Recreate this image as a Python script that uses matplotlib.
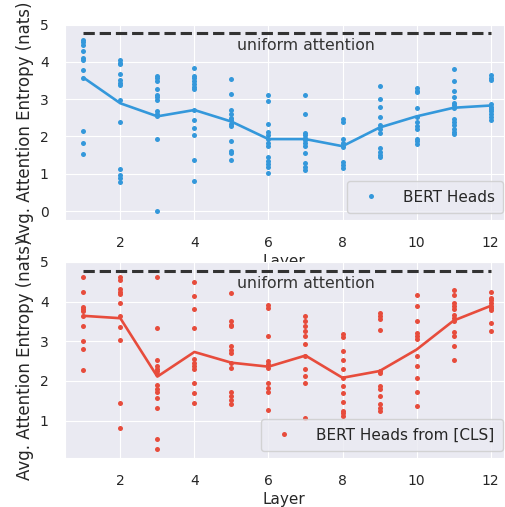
import numpy as np
import matplotlib
matplotlib.use("Agg")
import matplotlib.pyplot as plt
import seaborn as sns

# per-layer head entropies
layers = list(range(1, 13))
uniform_entropy = 4.78

bert_heads = [
    [4.59, 4.53, 4.46, 4.28, 4.11, 4.04, 3.77, 3.58, 2.16, 1.83, 1.53],
    [4.04, 3.97, 3.93, 3.67, 3.51, 3.44, 3.38, 2.98, 2.38, 1.12, 0.97, 0.88, 0.79],
    [3.62, 3.56, 3.49, 3.27, 3.12, 3.05, 2.98, 2.68, 2.61, 2.54, 1.92, 0.0],
    [3.83, 3.62, 3.56, 3.49, 3.40, 3.33, 3.27, 2.71, 2.43, 2.24, 2.03, 1.37, 0.80],
    [3.53, 3.15, 2.71, 2.61, 2.50, 2.43, 2.34, 2.27, 1.88, 1.62, 1.56, 1.37],
    [3.12, 2.94, 2.34, 2.12, 2.03, 1.92, 1.83, 1.74, 1.44, 1.35, 1.26, 1.18, 1.02],
    [3.12, 2.59, 2.09, 2.03, 1.97, 1.90, 1.83, 1.74, 1.56, 1.28, 1.19, 1.10],
    [2.47, 2.38, 1.92, 1.83, 1.77, 1.72, 1.32, 1.24, 1.15],
    [3.36, 3.00, 2.80, 2.52, 2.32, 2.21, 2.09, 1.68, 1.59, 1.50, 1.44],
    [3.29, 3.22, 3.18, 2.77, 2.52, 2.38, 2.27, 2.21, 1.94, 1.88, 1.81],
    [3.80, 3.49, 3.22, 3.06, 2.91, 2.85, 2.77, 2.47, 2.38, 2.30, 2.21, 2.12, 2.08],
    [3.64, 3.58, 3.51, 2.87, 2.80, 2.74, 2.68, 2.61, 2.52, 2.43],
]
bert_means = [3.58, 2.89, 2.54, 2.71, 2.40, 1.93, 1.93, 1.74, 2.24, 2.54, 2.77, 2.83]

cls_heads = [
    [4.61, 4.25, 3.86, 3.81, 3.75, 3.63, 3.38, 3.00, 2.81, 2.28],
    [4.61, 4.54, 4.31, 4.25, 4.19, 3.96, 3.63, 3.36, 3.04, 1.44, 0.81],
    [4.61, 3.33, 2.53, 2.38, 2.31, 2.25, 2.17, 1.89, 1.81, 1.73, 1.56, 1.31, 0.53, 0.29],
    [4.49, 4.13, 3.81, 3.33, 2.56, 2.44, 2.38, 2.29, 1.96, 1.69, 1.44],
    [4.21, 3.50, 3.42, 3.38, 2.88, 2.79, 2.71, 2.46, 2.33, 1.71, 1.63, 1.53, 1.42],
    [3.92, 3.83, 3.13, 2.50, 2.42, 2.33, 1.96, 1.83, 1.73, 1.28],
    [3.64, 3.50, 3.38, 3.25, 3.13, 2.94, 2.64, 2.29, 2.13, 1.96, 1.08],
    [3.17, 3.11, 2.75, 2.53, 2.29, 2.08, 1.88, 1.69, 1.46, 1.25, 1.19, 1.13],
    [3.71, 3.64, 3.56, 3.29, 2.25, 2.19, 1.88, 1.79, 1.63, 1.42, 1.33, 1.25],
    [4.17, 3.88, 3.50, 3.21, 3.13, 3.06, 2.63, 2.38, 2.08, 1.71, 1.36],
    [4.29, 4.17, 3.96, 3.88, 3.81, 3.67, 3.58, 3.50, 3.23, 3.14, 2.88, 2.53],
    [4.25, 4.08, 4.03, 3.96, 3.89, 3.83, 3.78, 3.46, 3.25],
]
cls_means = [3.64, 3.58, 2.11, 2.73, 2.46, 2.36, 2.64, 2.08, 2.25, 2.79, 3.52, 3.89]

blue = "#3498db"
red = "#e74c3c"


def plot_panel(ax, heads, means, color, label):
    xs = np.concatenate([[l] * len(h) for l, h in zip(layers, heads)])
    ys = np.concatenate(heads)
    ax.plot(xs, ys, "o", color=color, markersize=3.6, markeredgewidth=0, label=label)
    ax.plot(layers, means, color=color, linewidth=1.9)
    ax.plot([layers[0], layers[-1]], [uniform_entropy, uniform_entropy],
            "--", color="#333333", linewidth=2.2)
    ax.text(7, 4.45, "uniform attention", ha="center", va="center",
            fontsize=11.3, color="#333333")
    ax.set_xlim(0.5, 12.36)
    ax.set_xticks([2, 4, 6, 8, 10, 12])
    ax.set_xlabel("Layer", fontsize=11, labelpad=3)
    ax.set_ylabel("Avg. Attention Entropy (nats)", fontsize=12, labelpad=4)
    ax.tick_params(labelsize=10, pad=8)
    ax.legend(loc="lower right", bbox_to_anchor=(0.998, 0.036), borderaxespad=0,
              fontsize=11, handletextpad=1.1, borderpad=0.55)


sns.set_style("darkgrid")
fig = plt.figure(figsize=(5.06, 5.07), dpi=100)
ax1 = fig.add_axes([0.128, 0.566, 0.868, 0.387])
ax2 = fig.add_axes([0.128, 0.097, 0.868, 0.387])

plot_panel(ax1, bert_heads, bert_means, blue, "BERT Heads")
plot_panel(ax2, cls_heads, cls_means, red, "BERT Heads from [CLS]")
ax1.set_yticks([0, 1, 2, 3, 4, 5])
ax2.set_yticks([1, 2, 3, 4, 5])

fig.savefig("out.png", dpi=100)
